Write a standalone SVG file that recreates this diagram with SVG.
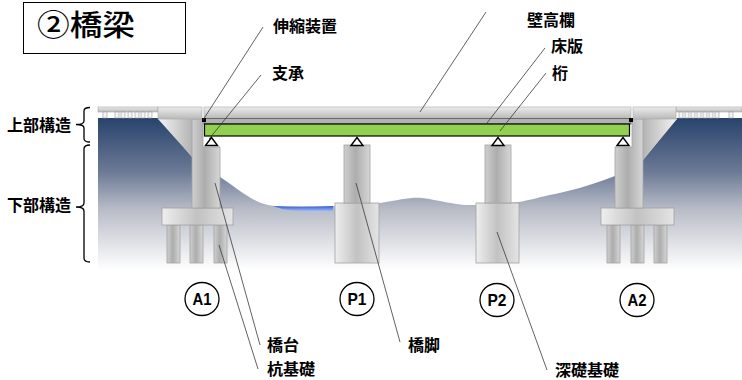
<svg xmlns="http://www.w3.org/2000/svg" width="742" height="380" viewBox="0 0 742 380">
  <defs>
    <linearGradient id="soil" x1="0" y1="118" x2="0" y2="270" gradientUnits="userSpaceOnUse">
      <stop offset="0" stop-color="#28436c"/>
      <stop offset="0.35" stop-color="#6b7995"/>
      <stop offset="0.6" stop-color="#b8bcc7"/>
      <stop offset="1" stop-color="#ffffff"/>
    </linearGradient>
    <linearGradient id="water" x1="0" y1="0" x2="0" y2="1">
      <stop offset="0" stop-color="#2a5ae0"/>
      <stop offset="1" stop-color="#b4c6f2"/>
    </linearGradient>
    <linearGradient id="col" x1="0" y1="0" x2="1" y2="0">
      <stop offset="0" stop-color="#cfcfcf"/>
      <stop offset="0.45" stop-color="#adadad"/>
      <stop offset="1" stop-color="#d6d6d6"/>
    </linearGradient>
    <linearGradient id="caisson" x1="0" y1="0" x2="1" y2="0">
      <stop offset="0" stop-color="#eeeeee"/>
      <stop offset="0.5" stop-color="#c2c2c2"/>
      <stop offset="1" stop-color="#e4e4e4"/>
    </linearGradient>
    <linearGradient id="wingL" x1="0" y1="0" x2="1" y2="0">
      <stop offset="0" stop-color="#f4f4f4"/>
      <stop offset="1" stop-color="#b4b4b4"/>
    </linearGradient>
    <linearGradient id="wingR" x1="1" y1="0" x2="0" y2="0">
      <stop offset="0" stop-color="#f4f4f4"/>
      <stop offset="1" stop-color="#b4b4b4"/>
    </linearGradient>
    <linearGradient id="slabTop" x1="0" y1="0" x2="0" y2="1">
      <stop offset="0" stop-color="#ececec"/>
      <stop offset="1" stop-color="#b9b9b9"/>
    </linearGradient>
    <style>
      .conc { stroke: #a2a2a2; stroke-width: 0.8; }
      .col { fill: url(#col); }
      .cai { fill: url(#caisson); }
      .top { fill: url(#slabTop); stroke: #a8a8a8; stroke-width: 0.6; }
      .post { fill: #f4f4f4; stroke: #9a9a9a; stroke-width: 0.6; }
      .shoe { fill: #ffffff; stroke: #000000; stroke-width: 1.4; stroke-linejoin: miter; }
      .leader { fill: none; stroke: #3a3a3a; stroke-width: 0.8; }
      .brace { fill: none; stroke: #000000; stroke-width: 1.3; }
      .lbl { font-family: "Noto Sans CJK JP", "Noto Sans CJK SC", sans-serif; font-weight: bold; font-size: 16px; fill: #000000; }
      .mark { fill: #ffffff; stroke: #000000; stroke-width: 1.3; }
      .marktxt { font-family: "Liberation Sans", Arial, sans-serif; font-weight: bold; font-size: 17px; fill: #000000; text-anchor: middle; }
    </style>
  </defs>

  <rect width="742" height="380" fill="#ffffff"/>

  <!-- title -->
  <g id="title">
    <rect x="23.5" y="2.5" width="162" height="51" fill="#ffffff" stroke="#000000" stroke-width="1"/>
    <text x="37" y="36" font-family="Noto Sans CJK JP, Noto Sans CJK SC, sans-serif" font-weight="500" font-size="29" textLength="98" lengthAdjust="spacingAndGlyphs" fill="#000000">②橋梁</text>
  </g>

  <!-- ground: embankments and river bed -->
  <g id="ground">
    <path d="M98,118 L160,118 L192,157 L220,177 C240,190 255,205 275,206 L335,206 C350,205 370,204 380,203 C400,200 410,197 422,198 C440,200 455,206 476,205 L519,202 C530,200 540,197 555,194 C575,190 600,182 615,176 L643,160 L677,118 L742,118 L742,272 L98,272 Z" fill="url(#soil)"/>
  </g>
  <g id="river">
    <path d="M273,206 Q300,208 333,206 L333,211 Q305,213 282,209 Z" fill="url(#water)"/>
  </g>

  <!-- railings on the approach embankments -->
  <g id="railing-left">
    <rect x="98" y="107" width="60" height="5" class="top"/>
    <rect x="103" y="112" width="4" height="6" class="post"/>
    <rect x="115" y="112" width="4" height="6" class="post"/>
    <rect x="121" y="112" width="4" height="6" class="post"/>
    <rect x="128" y="112" width="4" height="6" class="post"/>
    <rect x="135" y="112" width="4" height="6" class="post"/>
    <rect x="141" y="112" width="4" height="6" class="post"/>
    <rect x="148" y="112" width="4" height="6" class="post"/>
  </g>
  <g id="railing-right">
    <rect x="676" y="107" width="66" height="5" class="top"/>
    <rect x="679" y="112" width="4" height="6" class="post"/>
    <rect x="685" y="112" width="4" height="6" class="post"/>
    <rect x="691" y="112" width="4" height="6" class="post"/>
    <rect x="697" y="112" width="4" height="6" class="post"/>
    <rect x="703" y="112" width="4" height="6" class="post"/>
    <rect x="709" y="112" width="4" height="6" class="post"/>
    <rect x="715" y="112" width="4" height="6" class="post"/>
    <rect x="729" y="112" width="4" height="6" class="post"/>
  </g>

  <!-- abutment A1 -->
  <g id="abutment-a1">
    <rect x="167" y="225" width="13" height="38" class="conc col"/>
    <rect x="190" y="225" width="13" height="38" class="conc col"/>
    <rect x="214" y="225" width="13" height="38" class="conc col"/>
    <rect x="162" y="208" width="71" height="17" class="conc cai"/>
    <path d="M158,119 L192,119 L192,157 Z" fill="url(#wingL)"/>
    <path d="M192,119 L203,119 L203,147 L220,147 L220,208 L192,208 Z" class="conc col"/>
    <rect x="158" y="107" width="44" height="12" class="top"/>
  </g>

  <!-- pier P1 -->
  <g id="pier-p1">
    <rect x="335" y="203" width="44" height="60" class="conc cai"/>
    <rect x="344" y="145" width="26" height="58" class="conc col"/>
  </g>

  <!-- pier P2 -->
  <g id="pier-p2">
    <rect x="476" y="203" width="43" height="60" class="conc cai"/>
    <rect x="485" y="145" width="26" height="58" class="conc col"/>
  </g>

  <!-- abutment A2 -->
  <g id="abutment-a2">
    <rect x="607" y="225" width="13" height="38" class="conc col"/>
    <rect x="631" y="225" width="13" height="38" class="conc col"/>
    <rect x="654" y="225" width="13" height="38" class="conc col"/>
    <rect x="601" y="208" width="73" height="17" class="conc cai"/>
    <path d="M643,119 L677,119 L643,160 Z" fill="url(#wingR)"/>
    <path d="M632,119 L643,119 L643,208 L615,208 L615,147 L632,147 Z" class="conc col"/>
    <rect x="633" y="107" width="43" height="12" class="top"/>
  </g>

  <!-- superstructure: parapet, deck slab, girder -->
  <g id="superstructure">
    <rect x="204" y="107" width="427" height="11.5" class="top"/>
    <rect x="204" y="118.5" width="427" height="5.5" fill="#b2b2b2" stroke="#555555" stroke-width="0.8"/>
    <rect x="204.5" y="124" width="425" height="12" fill="#92d050" stroke="#000000" stroke-width="1.2"/>
    <rect x="202" y="118" width="4" height="4" fill="#000000"/>
    <rect x="629" y="118" width="4" height="4" fill="#000000"/>
  </g>

  <!-- bearings -->
  <g id="bearings">
    <path d="M205.5,145.5 L211.5,137.5 L217.5,145.5 Z" class="shoe"/>
    <path d="M351,145.5 L357,137.5 L363,145.5 Z" class="shoe"/>
    <path d="M492,145.5 L498,137.5 L504,145.5 Z" class="shoe"/>
    <path d="M617,145.5 L623,137.5 L629,145.5 Z" class="shoe"/>
  </g>

  <!-- support markers -->
  <g id="mark-a1"><ellipse cx="202" cy="299" rx="17" ry="16.5" class="mark"/><text x="202" y="305" class="marktxt" textLength="19" lengthAdjust="spacingAndGlyphs">A1</text></g>
  <g id="mark-p1"><ellipse cx="357" cy="299" rx="17" ry="16.5" class="mark"/><text x="357" y="305" class="marktxt" textLength="19" lengthAdjust="spacingAndGlyphs">P1</text></g>
  <g id="mark-p2"><ellipse cx="497" cy="300" rx="17" ry="16.5" class="mark"/><text x="497" y="306" class="marktxt" textLength="19" lengthAdjust="spacingAndGlyphs">P2</text></g>
  <g id="mark-a2"><ellipse cx="637" cy="300" rx="17" ry="16.5" class="mark"/><text x="637" y="306" class="marktxt" textLength="19" lengthAdjust="spacingAndGlyphs">A2</text></g>

  <!-- leader lines -->
  <g id="connectors">
    <path class="leader" d="M263,27 L203,120"/>
    <path class="leader" d="M261,75 L209,139"/>
    <path class="leader" d="M486,12 L420,112"/>
    <path class="leader" d="M545,48 L487,123"/>
    <path class="leader" d="M546,73 L500,131"/>
    <path class="leader" d="M215,183 L260,345"/>
    <path class="leader" d="M219,245 L258,369"/>
    <path class="leader" d="M356,183 L400,342"/>
    <path class="leader" d="M497,232 L547,370"/>
    <path class="brace" d="M90,107.5 Q84,107.5 84,111 L84,121 Q84,124.5 76,124.5 Q84,124.5 84,128 L84,138.5 Q84,142 90,142"/>
    <path class="brace" d="M90,145 Q84,145 84,149 L84,203 Q84,207 76,207 Q84,207 84,211 L84,258 Q84,262 90,262"/>
  </g>

  <!-- labels -->
  <g id="labels">
    <text class="lbl" x="273" y="32">伸縮装置</text>
    <text class="lbl" x="272" y="79">支承</text>
    <text class="lbl" x="527" y="26">壁高欄</text>
    <text class="lbl" x="551" y="52">床版</text>
    <text class="lbl" x="552" y="79">桁</text>
    <text class="lbl" x="7" y="131">上部構造</text>
    <text class="lbl" x="7" y="211">下部構造</text>
    <text class="lbl" x="267" y="351">橋台</text>
    <text class="lbl" x="267" y="375">杭基礎</text>
    <text class="lbl" x="408" y="351">橋脚</text>
    <text class="lbl" x="555" y="376">深礎基礎</text>
  </g>
</svg>
